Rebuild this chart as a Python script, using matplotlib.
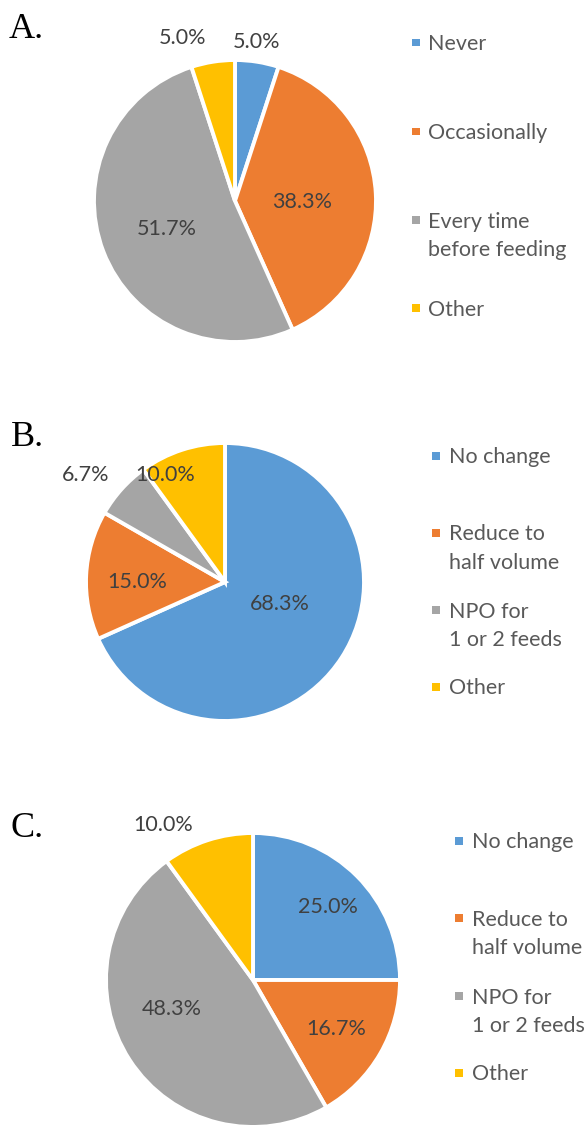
import numpy as np
import matplotlib
matplotlib.use("Agg")
import matplotlib.pyplot as plt
from matplotlib.patches import Rectangle

# ---- data -------------------------------------------------------------
labels_a = ["Never", "Occasionally", "Every time\nbefore feeding", "Other"]
values_a = [5.0, 38.3, 51.7, 5.0]

labels_b = ["No change", "Reduce to\nhalf volume", "NPO for\n1 or 2 feeds", "Other"]
values_b = [68.3, 15.0, 6.7, 10.0]

labels_c = ["No change", "Reduce to\nhalf volume", "NPO for\n1 or 2 feeds", "Other"]
values_c = [25.0, 16.7, 48.3, 10.0]

panel_letters = ["A.", "B.", "C."]

# ---- styling ------------------------------------------------------------
colors = ["#5B9BD5", "#ED7D31", "#A5A5A5", "#FFC000"]
pct_color = "#404040"
legend_color = "#595959"
sans = ["Lato", "DejaVu Sans"]
serif = ["Liberation Serif", "DejaVu Serif"]

W, H = 587, 1125
fig = plt.figure(figsize=(W / 100, H / 100), dpi=100)
fig.patch.set_facecolor("white")


def fx(x):
    return x / W


def fy(y):
    return 1 - y / H


# pie geometry (centre x, centre y, radius) in pixels
pie_geom = [(235, 201, 141), (225, 582, 139), (253, 980, 147)]

# percentage label placement: (distance from centre in radii, angle in degrees)
label_place = [
    [(1.14, 82.2), (0.475, -0.9), (0.52, 202.4), (1.213, 107.7)],
    [(0.424, -21.9), (0.628, 179.8), (1.262, 142.4), (0.883, 119.3)],
    [(0.71, 44.4), (0.656, -30.5), (0.587, 199.6), (1.219, 120.1)],
]

# legend geometry: marker x, text x, centre of first line of each entry
legend_geom = [
    (412, 428, [42.7, 131.7, 220, 308]),
    (432, 449, [456, 533, 610, 687]),
    (455, 472, [841, 918, 996, 1073]),
]
line_step = 28.7

# panel letter positions (left x, baseline y)
letter_pos = [(9, 38), (11, 446), (10, 837)]

datasets = [(labels_a, values_a), (labels_b, values_b), (labels_c, values_c)]

for k, (labels, values) in enumerate(datasets):
    cx, cy, r = pie_geom[k]
    ax = fig.add_axes([fx(cx - r), fy(cy + r), 2 * r / W, 2 * r / H])
    wedges, texts, autotexts = ax.pie(
        values,
        colors=colors,
        startangle=90,
        counterclock=False,
        radius=1.0,
        autopct="%.1f%%",
        wedgeprops=dict(edgecolor="white", linewidth=2.8),
        textprops=dict(family=sans, fontsize=15.5, color=pct_color),
    )
    for t, (dist, ang) in zip(autotexts, label_place[k]):
        a = np.deg2rad(ang)
        t.set_position((dist * np.cos(a), dist * np.sin(a)))
        t.set_ha("center")
        t.set_va("center")
        t.set_clip_on(False)
    ax.set_xlim(-1, 1)
    ax.set_ylim(-1, 1)
    ax.axis("off")

    # legend
    mx, tx, ys = legend_geom[k]
    for lab, col, yc in zip(labels, colors, ys):
        sq = 7.5
        fig.add_artist(Rectangle((fx(mx), fy(yc + sq / 2)), sq / W, sq / H,
                                 transform=fig.transFigure, facecolor=col,
                                 edgecolor="none"))
        for i, line in enumerate(lab.split("\n")):
            fig.text(fx(tx), fy(yc + i * line_step + 7.5), line,
                     family=sans, fontsize=15.5, color=legend_color,
                     ha="left", va="baseline")

    lx, ly = letter_pos[k]
    fig.text(fx(lx), fy(ly), panel_letters[k], family=serif, fontsize=26,
             color="black", ha="left", va="baseline")

fig.savefig("out.png", dpi=100, facecolor="white")
